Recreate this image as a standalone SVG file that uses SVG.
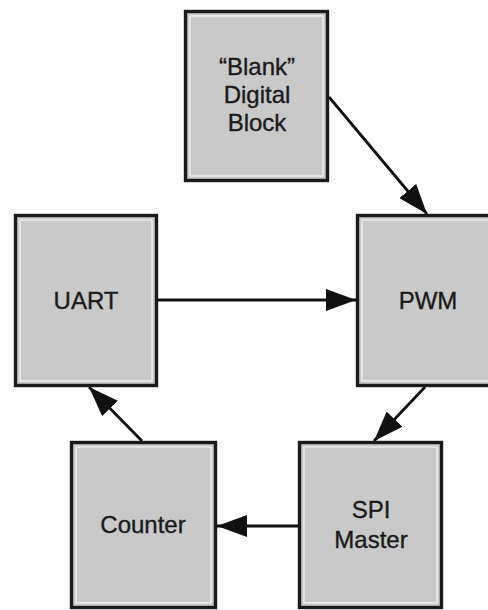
<svg xmlns="http://www.w3.org/2000/svg" width="488" height="610" viewBox="0 0 488 610">
<style>
.box{fill:#c9c9c9;stroke:#1a1a1a;stroke-width:3.4}
.inner{fill:none;stroke:#f2f2f2;stroke-width:1.3}
.lbl{font-family:"Liberation Sans",Arial,sans-serif;font-size:24px;fill:#1a1a1a;stroke:#1a1a1a;stroke-width:0.35;text-anchor:middle}
.conn{stroke:#111;stroke-width:2.8;fill:none;marker-end:url(#ah)}
</style>
<defs>
<marker id="ah" markerUnits="userSpaceOnUse" markerWidth="30" markerHeight="22" refX="30" refY="11" orient="auto">
<path d="M0,0 L30,11 L0,22 z" fill="#111"/>
</marker>
</defs>
<rect width="488" height="610" fill="#fff"/>
<g id="connectors">
<line class="conn" x1="329" y1="97" x2="427" y2="214"/>
<line class="conn" x1="158" y1="300" x2="356" y2="300"/>
<line class="conn" x1="425" y1="387" x2="374" y2="441"/>
<line class="conn" x1="298" y1="526" x2="217" y2="526"/>
<line class="conn" x1="142" y1="441" x2="89" y2="387"/>
</g>
<g id="blank">
<rect class="box" x="185.5" y="11.5" width="142" height="169"/>
<rect class="inner" x="190" y="16" width="133" height="160"/>
<text class="lbl" x="257" y="75">“Blank”</text>
<text class="lbl" x="257" y="103">Digital</text>
<text class="lbl" x="257" y="131">Block</text>
</g>
<g id="uart">
<rect class="box" x="15.5" y="215.5" width="141" height="170"/>
<rect class="inner" x="20" y="220" width="132" height="161"/>
<text class="lbl" x="86" y="309">UART</text>
</g>
<g id="pwm">
<rect class="box" x="357.5" y="215.5" width="141" height="170"/>
<rect class="inner" x="362" y="220" width="132" height="161"/>
<text class="lbl" x="428" y="309">PWM</text>
</g>
<g id="counter">
<rect class="box" x="71.5" y="442.5" width="144" height="165"/>
<rect class="inner" x="76" y="447" width="135" height="156"/>
<text class="lbl" x="143" y="533">Counter</text>
</g>
<g id="spi">
<rect class="box" x="299.5" y="442.5" width="142" height="165"/>
<rect class="inner" x="304" y="447" width="133" height="156"/>
<text class="lbl" x="371" y="518">SPI</text>
<text class="lbl" x="371" y="548">Master</text>
</g>
</svg>
